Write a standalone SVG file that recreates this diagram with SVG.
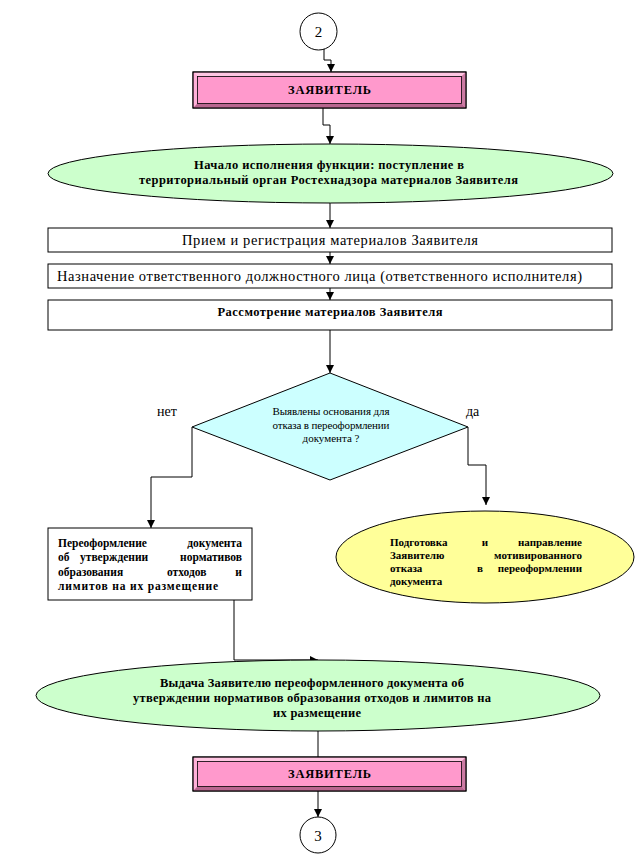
<svg xmlns="http://www.w3.org/2000/svg" width="638" height="865" viewBox="0 0 638 865">
<defs>
<style>
.ln{fill:none;stroke:#000;stroke-width:1}
.bx{fill:#fff;stroke:#000;stroke-width:1}
.t{font-family:"Liberation Serif","Times New Roman",serif;fill:#000}
.b{font-weight:bold}
.bev{stroke:none}
</style>
<marker id="ar" viewBox="0 0 8 8" refX="8" refY="4" markerWidth="8" markerHeight="8" markerUnits="userSpaceOnUse" orient="auto">
<path d="M0,0 L8,4 L0,8 Z" fill="#000"/>
</marker>
</defs>
<rect width="638" height="865" fill="#fff"/>

<g id="connectors">
<polyline class="ln" points="324,49 324,60 331,60 331,72" marker-end="url(#ar)"/>
<polyline class="ln" points="323,108 323,125 330,125 330,144" marker-end="url(#ar)"/>
<line class="ln" x1="330" y1="203" x2="330" y2="228" marker-end="url(#ar)"/>
<line class="ln" x1="330" y1="252" x2="330" y2="264" marker-end="url(#ar)"/>
<line class="ln" x1="330" y1="288" x2="330" y2="300" marker-end="url(#ar)"/>
<line class="ln" x1="330" y1="330" x2="330" y2="373" marker-end="url(#ar)"/>
<polyline class="ln" points="192,427 192,477 151,477 151,528" marker-end="url(#ar)"/>
<polyline class="ln" points="468,427 468,465 486,465 486,505" marker-end="url(#ar)"/>
<polyline class="ln" points="234,600 234,660 318,660" marker-end="url(#ar)"/>
<line class="ln" x1="318" y1="731" x2="318" y2="757"/>
<line class="ln" x1="318" y1="791" x2="318" y2="817" marker-end="url(#ar)"/>
</g>

<g id="circle2">
<circle cx="318.5" cy="31.5" r="18.5" fill="#fff" stroke="#000" stroke-width="1"/>
<text class="t" x="318.5" y="37" font-size="15" text-anchor="middle">2</text>
</g>

<g id="applicant1">
<rect x="193" y="72" width="273" height="36" fill="#FF99CC" stroke="#000"/>
<polygon class="bev" points="193.5,72.5 465.5,72.5 461.5,76.5 197.5,76.5" fill="#FFC6E2"/>
<polygon class="bev" points="193.5,72.5 197.5,76.5 197.5,103.5 193.5,107.5" fill="#FFB0D8"/>
<polygon class="bev" points="193.5,107.5 197.5,103.5 461.5,103.5 465.5,107.5" fill="#B8668F"/>
<polygon class="bev" points="465.5,72.5 465.5,107.5 461.5,103.5 461.5,76.5" fill="#CC7AA3"/>
<rect x="193" y="72" width="273" height="36" fill="none" stroke="#000"/>
<rect x="197.5" y="76.5" width="264" height="27" fill="#FF99CC" stroke="#000" stroke-width="0.8"/>
<text class="t b" x="329.5" y="94" font-size="12.5" text-anchor="middle" textLength="83" lengthAdjust="spacing">ЗАЯВИТЕЛЬ</text>
</g>

<g id="start">
<ellipse cx="330.5" cy="173.5" rx="282.5" ry="29.5" fill="#CCFFCC" stroke="#000"/>
<text class="t b" x="329" y="169" font-size="12.5" text-anchor="middle" textLength="270" lengthAdjust="spacing">Начало исполнения функции: поступление в</text>
<text class="t b" x="328.5" y="184" font-size="12.5" text-anchor="middle" textLength="379" lengthAdjust="spacing">территориальный орган Ростехнадзора материалов Заявителя</text>
</g>

<g id="reception">
<rect class="bx" x="48" y="228" width="564" height="24"/>
<text class="t" x="330" y="245" font-size="14.5" text-anchor="middle" textLength="296" lengthAdjust="spacing">Прием и регистрация материалов Заявителя</text>
</g>

<g id="assignment">
<rect class="bx" x="48" y="264" width="564" height="24"/>
<text class="t" x="57" y="281" font-size="14.5" textLength="525" lengthAdjust="spacing">Назначение ответственного должностного лица (ответственного исполнителя)</text>
</g>

<g id="review">
<rect class="bx" x="48" y="300" width="564" height="30"/>
<text class="t b" x="330" y="316" font-size="12.5" text-anchor="middle" textLength="225" lengthAdjust="spacing">Рассмотрение материалов Заявителя</text>
</g>

<g id="decision">
<polygon points="330,373 468,427 330,480 192,427" fill="#CCFFFF" stroke="#000"/>
<text class="t" x="331" y="415" font-size="11" text-anchor="middle" textLength="117" lengthAdjust="spacing">Выявлены основания для</text>
<text class="t" x="331" y="429" font-size="11" text-anchor="middle" textLength="117" lengthAdjust="spacing">отказа в переоформлении</text>
<text class="t" x="331" y="442" font-size="11" text-anchor="middle">документа ?</text>
</g>

<g id="labels">
<text class="t" x="157" y="416" font-size="14">нет</text>
<text class="t" x="466" y="416" font-size="14">да</text>
</g>

<g id="reissue">
<rect class="bx" x="48" y="528" width="204" height="72"/>
<text class="t b" y="547" font-size="11.5"><tspan x="58">Переоформление</tspan><tspan x="242" text-anchor="end">документа</tspan></text>
<text class="t b" y="561" font-size="11.5"><tspan x="58">об</tspan><tspan x="80">утверждении</tspan><tspan x="242" text-anchor="end">нормативов</tspan></text>
<text class="t b" y="576" font-size="11.5"><tspan x="58">образования</tspan><tspan x="167">отходов</tspan><tspan x="242" text-anchor="end">и</tspan></text>
<text class="t b" x="58" y="590" font-size="11.5" textLength="160" lengthAdjust="spacing">лимитов на их размещение</text>
</g>

<g id="refusal">
<ellipse cx="485" cy="557" rx="149" ry="46" fill="#FFFF99" stroke="#000"/>
<text class="t b" y="546" font-size="11"><tspan x="390">Подготовка</tspan><tspan x="485" text-anchor="middle">и</tspan><tspan x="582" text-anchor="end">направление</tspan></text>
<text class="t b" y="559" font-size="11"><tspan x="390">Заявителю</tspan><tspan x="582" text-anchor="end">мотивированного</tspan></text>
<text class="t b" y="572" font-size="11"><tspan x="390">отказа</tspan><tspan x="480" text-anchor="middle">в</tspan><tspan x="582" text-anchor="end">переоформлении</tspan></text>
<text class="t b" x="390" y="585" font-size="11">документа</text>
</g>

<g id="issue">
<ellipse cx="318" cy="695.5" rx="282" ry="35.5" fill="#CCFFCC" stroke="#000"/>
<text class="t b" x="312" y="687" font-size="12.5" text-anchor="middle" textLength="304" lengthAdjust="spacing">Выдача Заявителю переоформленного документа об</text>
<text class="t b" x="312" y="702" font-size="12.5" text-anchor="middle" textLength="358" lengthAdjust="spacing">утверждении нормативов образования отходов и лимитов на</text>
<text class="t b" x="317" y="717" font-size="12.5" text-anchor="middle" textLength="88" lengthAdjust="spacing">их размещение</text>
</g>

<g id="applicant2">
<rect x="193" y="757" width="273" height="34" fill="#FF99CC" stroke="#000"/>
<polygon class="bev" points="193.5,757.5 465.5,757.5 461.5,761.5 197.5,761.5" fill="#FFC6E2"/>
<polygon class="bev" points="193.5,757.5 197.5,761.5 197.5,786.5 193.5,790.5" fill="#FFB0D8"/>
<polygon class="bev" points="193.5,790.5 197.5,786.5 461.5,786.5 465.5,790.5" fill="#B8668F"/>
<polygon class="bev" points="465.5,757.5 465.5,790.5 461.5,786.5 461.5,761.5" fill="#CC7AA3"/>
<rect x="193" y="757" width="273" height="34" fill="none" stroke="#000"/>
<rect x="197.5" y="761.5" width="264" height="25" fill="#FF99CC" stroke="#000" stroke-width="0.8"/>
<text class="t b" x="329.5" y="778" font-size="12.5" text-anchor="middle" textLength="83" lengthAdjust="spacing">ЗАЯВИТЕЛЬ</text>
</g>

<g id="circle3">
<circle cx="318" cy="835" r="18" fill="#fff" stroke="#000" stroke-width="1"/>
<text class="t" x="318" y="840.5" font-size="15" text-anchor="middle">3</text>
</g>
</svg>
